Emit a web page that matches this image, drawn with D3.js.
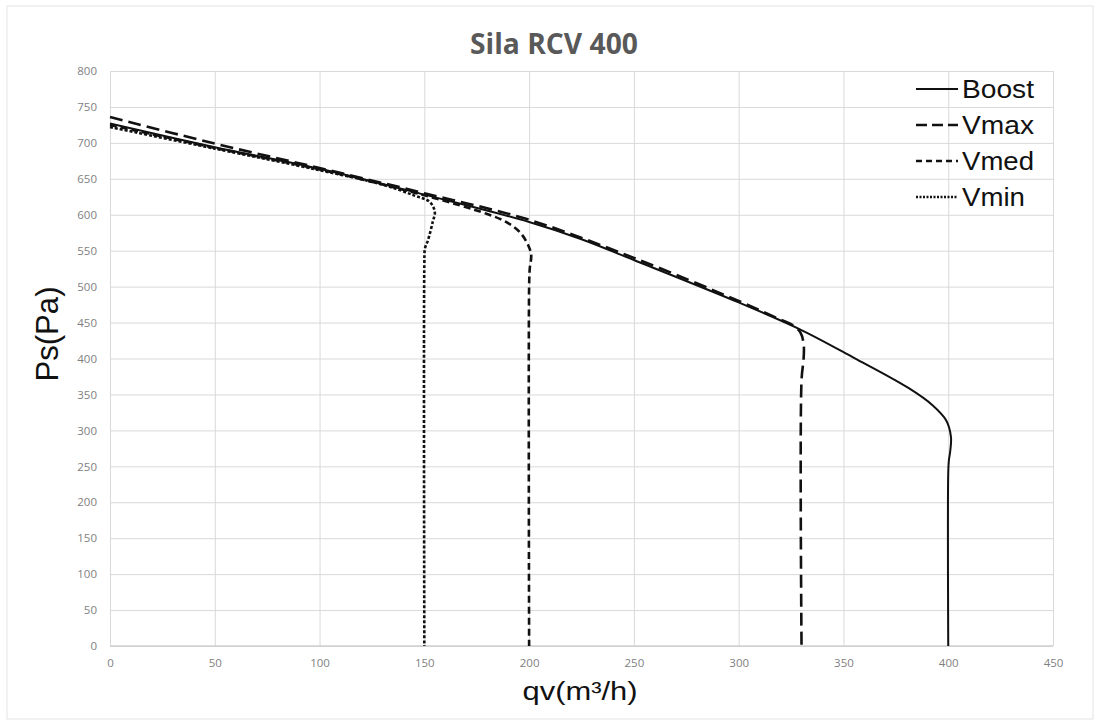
<!DOCTYPE html>
<html>
<head>
<meta charset="utf-8">
<script src="https://cdn.jsdelivr.net/npm/d3@7"></script>
<style>
  body { margin: 0; background: #fff; }
  .grid line { stroke: #d9d9d9; stroke-width: 1; }
  .grid path { display: none; }
  .tick text { font-family: "Open Sans", sans-serif; font-size: 11.5px; fill: #7f7f7f; }
</style>
</head>
<body>
<svg id="chart" width="1100" height="728"></svg>
<script>
// axis ticks
const xTicks = [0, 50, 100, 150, 200, 250, 300, 350, 400, 450];
const yTicks = [0, 50, 100, 150, 200, 250, 300, 350, 400, 450, 500, 550, 600, 650, 700, 750, 800];

// fan curves: flow qv (m3/h) and static pressure Ps (Pa)
const boostQ = [0, 50, 100, 150, 200, 225, 250, 300, 329, 355, 381, 392.5, 399, 401.3, 401, 400.3, 400, 400];
const boostP = [727, 694, 664, 628, 590, 566, 537, 478, 441, 401, 359, 335, 314, 291, 272, 258, 240, 0];

const vmaxQ = [0, 50, 100, 150, 200, 250, 300, 320, 326, 329.5, 331, 331, 330, 330];
const vmaxP = [736, 699, 665, 630, 593, 540, 480, 454, 446, 436, 420, 400, 370, 0];

const vmedQ = [0, 50, 100, 150, 180, 189, 195.5, 199.5, 201, 200.3, 200, 200];
const vmedP = [725, 693, 663, 627, 601, 590, 576, 558, 544, 525, 500, 0];

const vminQ = [0, 50, 100, 130, 145, 152.5, 155, 154, 151.8, 150.3, 150, 150];
const vminP = [722, 692, 662, 642, 627, 618, 604, 590, 565, 553, 530, 0];

const seriesNames = ["Boost", "Vmax", "Vmed", "Vmin"];

const svg = d3.select("#chart");

const x = d3.scaleLinear().domain([0, 450]).range([110, 1053]);
const y = d3.scaleLinear().domain([0, 800]).range([646, 71]);

// outer frame
svg.append("rect")
    .attr("x", 7).attr("y", 6)
    .attr("width", 1086).attr("height", 713)
    .attr("fill", "none")
    .attr("stroke", "#e3e3e3");

// grid + tick labels
svg.append("g")
    .attr("class", "grid")
    .attr("transform", `translate(0,${y(0)})`)
    .call(d3.axisBottom(x).tickValues(xTicks).tickSize(-(y(0) - y(800))).tickPadding(13));

svg.append("g")
    .attr("class", "grid")
    .attr("transform", `translate(${x(0)},0)`)
    .call(d3.axisLeft(y).tickValues(yTicks).tickSize(-(x(450) - x(0))).tickPadding(13));

// axis base line
svg.append("line")
    .attr("x1", x(0)).attr("x2", x(450))
    .attr("y1", y(0)).attr("y2", y(0))
    .attr("stroke", "#cfcfcf").attr("stroke-width", 1.5);

// curves
const series = [
    { name: "Boost", q: boostQ, p: boostP, dash: null, width: 2 },
    { name: "Vmax", q: vmaxQ, p: vmaxP, dash: "13,6", width: 2.6 },
    { name: "Vmed", q: vmedQ, p: vmedP, dash: "7,4", width: 2.6 },
    { name: "Vmin", q: vminQ, p: vminP, dash: "3,2", width: 2.6 }
];

const line = d3.line()
    .x(d => x(d[0]))
    .y(d => y(d[1]))
    .curve(d3.curveCatmullRom.alpha(0.5));

svg.append("g")
    .selectAll("path")
    .data(series)
    .enter().append("path")
    .attr("d", s => line(d3.zip(s.q, s.p)))
    .attr("fill", "none")
    .attr("stroke", "#111")
    .attr("stroke-width", s => s.width)
    .attr("stroke-dasharray", s => s.dash);

// title
svg.append("text")
    .attr("x", 554).attr("y", 54)
    .attr("text-anchor", "middle")
    .attr("font-family", "Open Sans, sans-serif")
    .attr("font-weight", "bold")
    .attr("font-size", 28)
    .attr("fill", "#595959")
    .attr("textLength", 168)
    .attr("lengthAdjust", "spacingAndGlyphs")
    .text("Sila RCV 400");

// axis titles
svg.append("text")
    .attr("x", 580).attr("y", 700)
    .attr("text-anchor", "middle")
    .attr("font-family", "Liberation Sans, Arial, sans-serif")
    .attr("font-size", 26)
    .attr("fill", "#111")
    .attr("textLength", 115)
    .attr("lengthAdjust", "spacingAndGlyphs")
    .text("qv(m³/h)");

svg.append("text")
    .attr("transform", "translate(58,334) rotate(-90)")
    .attr("text-anchor", "middle")
    .attr("font-family", "Liberation Sans, Arial, sans-serif")
    .attr("font-size", 31)
    .attr("fill", "#111")
    .attr("textLength", 95)
    .attr("lengthAdjust", "spacingAndGlyphs")
    .text("Ps(Pa)");

// legend
const legendWidths = [72, 72, 72, 63];
const legend = svg.append("g")
    .selectAll("g")
    .data(series)
    .enter().append("g")
    .attr("transform", (s, i) => `translate(916,${89 + i * 36})`);

legend.append("line")
    .attr("x1", 0).attr("x2", 42)
    .attr("stroke", "#111")
    .attr("stroke-width", s => s.name === "Boost" ? 2 : 2.4)
    .attr("stroke-dasharray", s => s.name === "Vmax" ? "11,5" : s.name === "Vmed" ? "6,4" : s.name === "Vmin" ? "2,1.5" : null);

legend.append("text")
    .attr("x", 46).attr("y", 9)
    .attr("font-family", "Liberation Sans, Arial, sans-serif")
    .attr("font-size", 25)
    .attr("fill", "#111")
    .attr("textLength", (s, i) => legendWidths[i])
    .attr("lengthAdjust", "spacingAndGlyphs")
    .text((s, i) => seriesNames[i]);
</script>
</body>
</html>
